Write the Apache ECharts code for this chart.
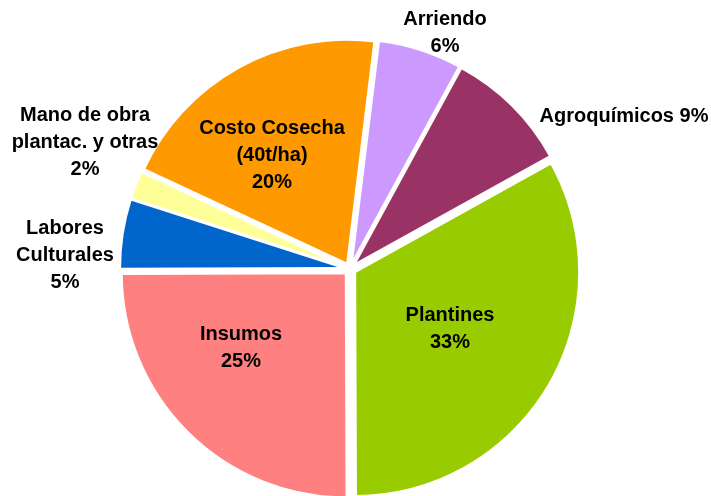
<!DOCTYPE html>
<html>
<head>
<meta charset="utf-8">
<script src="https://cdn.jsdelivr.net/npm/echarts@6/dist/echarts.min.js"></script>
<style>
  html, body { margin: 0; padding: 0; background: #fff; }
  #chart { width: 711px; height: 496px; }
</style>
</head>
<body>
<div id="chart"></div>
<script>
// slices, clockwise from the top
const categories = ['Arriendo', 'Agroquímicos', 'Plantines', 'Insumos', 'Labores Culturales', 'Mano de obra plantac. y otras', 'Costo Cosecha (40t/ha)'];
const shares = [6, 9, 33, 25, 5, 2, 20];
const labelTexts = [
  'Arriendo\n6%',
  'Agroquímicos 9%',
  'Plantines\n33%',
  'Insumos\n25%',
  'Labores\nCulturales\n5%',
  'Mano de obra\nplantac. y otras\n2%',
  'Costo Cosecha\n(40t/ha)\n20%'
];
const colors = ['#CC99FF', '#993366', '#99CC00', '#FF8080', '#0066CC', '#FFFF99', '#FF9900'];

// where each label sits (text centre)
const labelPos = [[445, 33], [624, 116], [450, 329], [241, 348], [65, 255], [85, 142], [272, 155]];
const pieCenter = [350, 269];

const chart = echarts.init(document.getElementById('chart'));

const common = {
  type: 'pie',
  center: pieCenter,
  radius: 224,
  startAngle: 83,
  clockwise: true,
  emphasis: { disabled: true },
  labelLine: { show: false }
};

chart.setOption({
  animation: false,
  series: [
    // exploded slices
    Object.assign({}, common, {
      selectedMode: 'multiple',
      selectedOffset: 6,
      itemStyle: { borderColor: '#fff', borderWidth: 2 },
      select: { itemStyle: { borderColor: '#fff', borderWidth: 2 } },
      label: { show: false },
      data: categories.map((name, i) => ({
        name,
        value: shares[i],
        selected: true,
        itemStyle: { color: colors[i] }
      }))
    }),
    // label carrier (pie labels ignore labelLayout while selected)
    Object.assign({}, common, {
      silent: true,
      itemStyle: { color: 'transparent', borderWidth: 0 },
      label: {
        show: true,
        position: 'inside',
        formatter: (p) => labelTexts[p.dataIndex],
        fontFamily: 'Liberation Sans, Arial, sans-serif',
        fontWeight: 'bold',
        fontSize: 20,
        lineHeight: 27,
        color: '#000',
        align: 'center'
      },
      labelLayout: (p) => ({
        x: labelPos[p.dataIndex][0],
        y: labelPos[p.dataIndex][1],
        align: 'center',
        verticalAlign: 'middle'
      }),
      data: categories.map((name, i) => ({ name, value: shares[i] }))
    })
  ]
});
</script>
</body>
</html>
